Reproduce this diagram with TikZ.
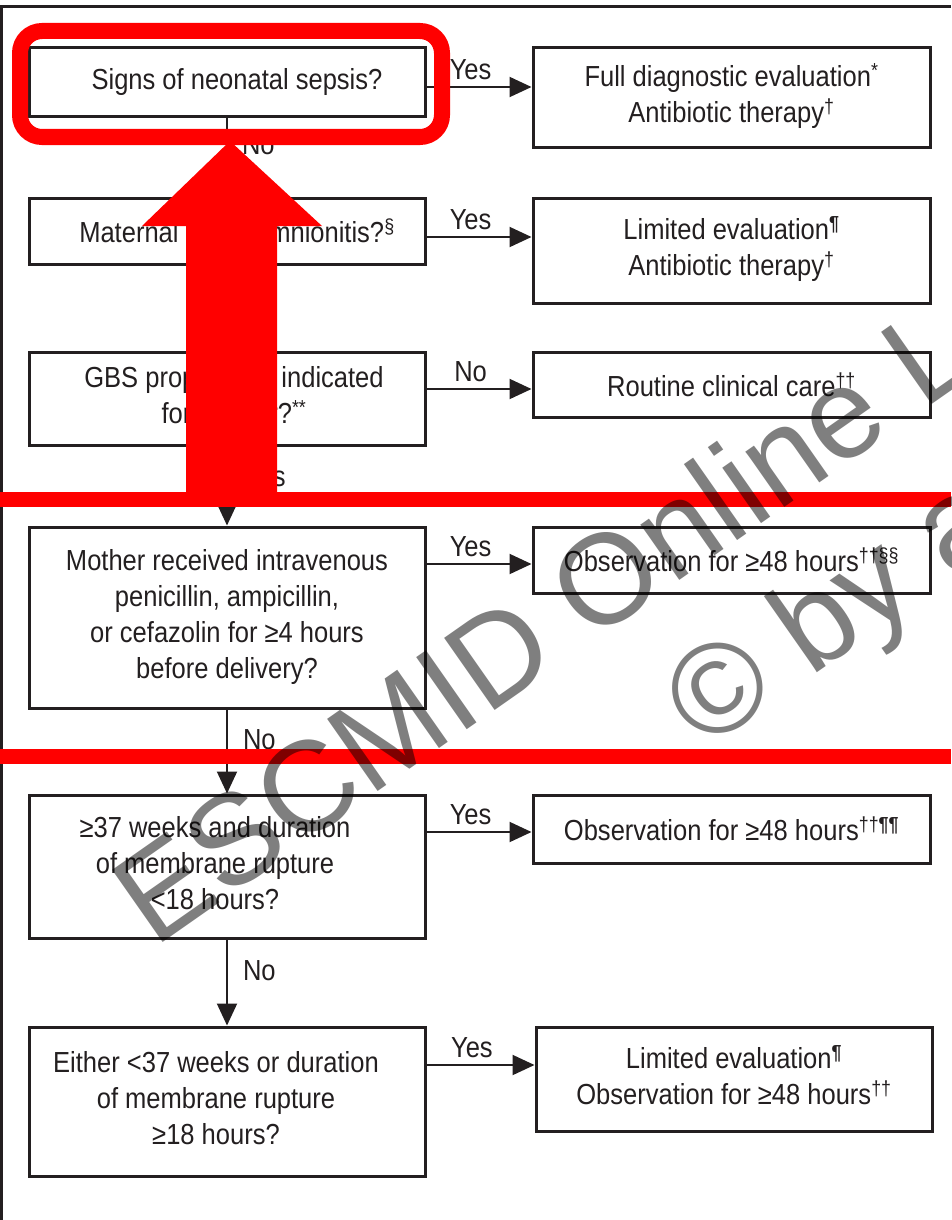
\documentclass[tikz,border=0pt]{standalone}
\usepackage{fontspec}
\setmainfont{Liberation Sans}[FakeStretch=0.88]
\newfontfamily\wmfont{Liberation Sans}
\usetikzlibrary{arrows.meta}
\definecolor{ink}{HTML}{231F20}
\definecolor{annot}{HTML}{FF0000}
\newcommand{\ctab}[1]{\begin{tabular}{@{}c@{}}#1\end{tabular}}
\tikzset{
  box/.style={draw=ink, line width=3pt, fill=white, inner sep=0pt, text=ink,
    font=\fontsize{29}{36}\selectfont},
  lbox/.style={box, minimum width=396pt},
  rbox/.style={box, minimum width=397pt},
  arr/.style={draw=ink, line width=2pt, -{Triangle[length=22pt,width=20pt]}},
  lab/.style={text=ink, inner sep=0pt, font=\fontsize{29}{36}\selectfont},
  wm/.style={text=black, text opacity=0.5, inner sep=0pt,
    font=\wmfont\fontsize{128}{150}\selectfont},
  redmark/.style={draw=annot, line width=15pt},
}
\begin{document}
\begin{tikzpicture}[x=1pt, y=-1pt]
\useasboundingbox (0,0) rectangle (951,1220);
\fill[white] (0,0) rectangle (951,1220);
% frame
\draw[ink, line width=3pt] (1.5,1220) -- (1.5,6.5) -- (951,6.5);
% left column
\node[lbox, minimum height=69pt] (b1) at (227,82.5) {\hspace*{20pt}Signs of neonatal sepsis?};
\node[lbox, minimum height=66pt] (b2) at (227,231) {\hspace*{20pt}Maternal chorioamnionitis?\textsuperscript{§}};
\node[lbox, minimum height=93pt] (b3) at (227,398.5) {\hspace*{14pt}\ctab{GBS prophylaxis indicated\\for mother?\textsuperscript{**}}};
\node[lbox, minimum height=181pt] (b4) at (227,617.5) {\ctab{Mother received intravenous\\penicillin, ampicillin,\\or cefazolin for ≥4 hours\\before delivery?}};
\node[lbox, minimum height=143pt] (b5) at (227,866.5) {\ctab{≥37 weeks and duration\\of membrane rupture\\<18 hours?}\hspace*{24pt}};
\node[lbox, minimum height=149pt] (b6) at (227,1101.5) {\ctab{Either <37 weeks or duration\\of membrane rupture\\≥18 hours?}\hspace*{22pt}};
% right column
\node[rbox, minimum height=99pt] (r1) at (731.5,97.5) {\ctab{Full diagnostic evaluation\textsuperscript{*}\\Antibiotic therapy\textsuperscript{†}}};
\node[rbox, minimum height=105pt] (r2) at (731.5,250.5) {\ctab{Limited evaluation\textsuperscript{\textbf{¶}}\\Antibiotic therapy\textsuperscript{†}}};
\node[rbox, minimum height=65pt] (r3) at (731.5,384.5) {Routine clinical care\textsuperscript{††}};
\node[rbox, minimum height=66pt] (r4) at (731.5,560) {Observation for ≥48 hours\textsuperscript{††§§}};
\node[rbox, minimum height=68pt] (r5) at (731.5,829) {Observation for ≥48 hours\textsuperscript{††\textbf{¶¶}}};
\node[rbox, minimum height=104pt, minimum width=396pt] (r6) at (734,1079) {\ctab{Limited evaluation\textsuperscript{\textbf{¶}}\\Observation for ≥48 hours\textsuperscript{††}}};
% horizontal connectors
\coordinate (s1) at ([yshift=-4.5pt]b1.east);
\coordinate (s2) at ([yshift=-6pt]b2.east);
\coordinate (s3) at ([yshift=9.5pt]b3.east);
\coordinate (s4) at ([yshift=53.5pt]b4.east);
\coordinate (s5) at ([yshift=34.5pt]b5.east);
\coordinate (s6) at ([yshift=36.5pt]b6.east);
\draw[arr] (s1) -- node[lab, pos=0.42, yshift=17pt] (y1) {Yes} (s1 -| r1.west);
\draw[arr] (s2) -- node[lab, pos=0.42, yshift=17pt] (y2) {Yes} (s2 -| r2.west);
\draw[arr] (s3) -- node[lab, pos=0.42, yshift=17pt] (n3) {No} (s3 -| r3.west);
\draw[arr] (s4) -- node[lab, pos=0.42, yshift=17pt] (y4) {Yes} (s4 -| r4.west);
\draw[arr] (s5) -- node[lab, pos=0.42, yshift=17pt] (y5) {Yes} (s5 -| r5.west);
\draw[arr] (s6) -- node[lab, pos=0.42, yshift=17pt] (y6) {Yes} (s6 -| r6.west);
% vertical connectors
\draw[arr] (b1.south) -- node[lab, anchor=west, xshift=14pt, yshift=13pt] (v1) {No} (b2.north);
\draw[arr] (b2.south) -- node[lab, anchor=west, xshift=14pt, yshift=13pt] (v2) {No} (b3.north);
\draw[arr] (b3.south) -- node[lab, anchor=west, xshift=16pt, yshift=9pt] (v3) {Yes} (b4.north);
\draw[arr] (b4.south) -- node[lab, anchor=west, xshift=15pt, yshift=12pt] (v4) {No} (b5.north);
\draw[arr] (b5.south) -- node[lab, anchor=west, xshift=15pt, yshift=12pt] (v5) {No} (b6.north);
% red annotations
\draw[annot, line width=16pt, rounded corners=22pt] (20,31) rectangle (442,137);
\fill[annot] (186,493) -- (186,226) -- (142,226) -- (230,141) -- (322,226) -- (277,226) -- (277,493) -- cycle;
\draw[redmark] (0,499.5) -- (951,499.5);
\draw[redmark] (0,756.5) -- (951,756.5);
% watermark
\begin{scope}
\clip (0,0) rectangle (951,1220);
\node[wm, rotate=35, anchor=base west] (wm1) at (154,949) {ESCMID Online L};
\node[wm, rotate=35, anchor=base west] (wm2) at (704,752) {© by a};
\end{scope}
\end{tikzpicture}
\end{document}
